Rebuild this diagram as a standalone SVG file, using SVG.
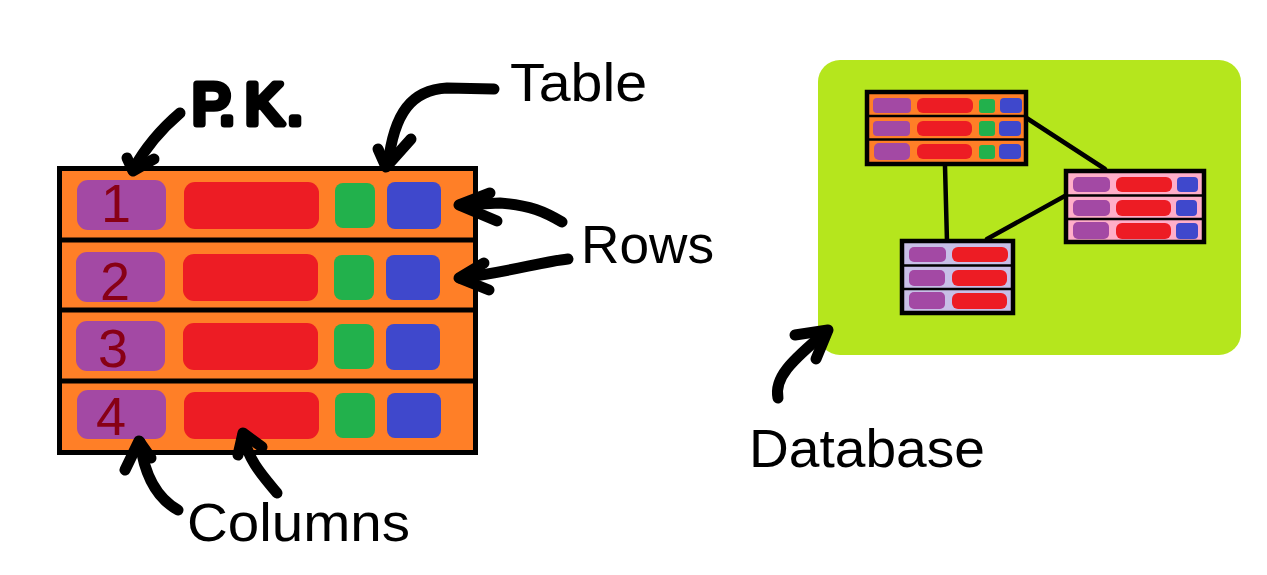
<svg xmlns="http://www.w3.org/2000/svg" width="1267" height="575" viewBox="0 0 1267 575">
<style>
.lbl{font-family:"Liberation Sans",Arial,sans-serif;font-size:54px;fill:#000}
.num{font-family:"Liberation Sans",Arial,sans-serif;font-size:54px;fill:#880015;text-anchor:middle}
.pk{font-family:"Liberation Sans",Arial,sans-serif;font-size:58px;fill:#000;stroke:#000;stroke-width:7;stroke-linejoin:round;stroke-linecap:round}
.frame{fill:none;stroke:#000;stroke-width:5}
.sfr{fill:none;stroke:#000;stroke-width:4.5}
.sep{stroke:#000;stroke-width:5}
.ssep{stroke:#000;stroke-width:2.5}
.pu{fill:#a349a4}.re{fill:#ed1c24}.gr{fill:#22b14c}.bl{fill:#3f48cc}
.arr{fill:none;stroke:#000;stroke-width:11;stroke-linecap:round;stroke-linejoin:round}
.link{fill:none;stroke:#000;stroke-width:4.5;stroke-linecap:round}
</style>
<rect width="1267" height="575" fill="#fff"/>

<g id="main-table">
  <rect x="59.5" y="168.5" width="416" height="284" fill="#ff7f27"/>
  <g id="row1">
    <rect class="pu" x="77" y="180" width="89" height="50" rx="11"/>
    <rect class="re" x="184" y="182" width="135" height="47" rx="11"/>
    <rect class="gr" x="335" y="183" width="40" height="45" rx="8"/>
    <rect class="bl" x="387" y="182" width="54" height="47" rx="8"/>
    <text class="num" x="116" y="222">1</text>
  </g>
  <g id="row2">
    <rect class="pu" x="76" y="252" width="89" height="50" rx="11"/>
    <rect class="re" x="183" y="254" width="135" height="47" rx="11"/>
    <rect class="gr" x="334" y="255" width="40" height="45" rx="8"/>
    <rect class="bl" x="386" y="255" width="54" height="45" rx="8"/>
    <text class="num" x="115" y="300">2</text>
  </g>
  <g id="row3">
    <rect class="pu" x="76" y="321" width="89" height="50" rx="11"/>
    <rect class="re" x="183" y="323" width="135" height="47" rx="11"/>
    <rect class="gr" x="334" y="324" width="40" height="45" rx="8"/>
    <rect class="bl" x="386" y="324" width="54" height="46" rx="8"/>
    <text class="num" x="113" y="367">3</text>
  </g>
  <g id="row4">
    <rect class="pu" x="77" y="390" width="89" height="49" rx="11"/>
    <rect class="re" x="184" y="392" width="135" height="47" rx="11"/>
    <rect class="gr" x="335" y="393" width="40" height="45" rx="8"/>
    <rect class="bl" x="387" y="393" width="54" height="45" rx="8"/>
    <text class="num" x="111" y="435">4</text>
  </g>
  <line class="sep" x1="59" y1="240" x2="476" y2="240"/>
  <line class="sep" x1="59" y1="310" x2="476" y2="310"/>
  <line class="sep" x1="59" y1="381" x2="476" y2="381"/>
  <rect class="frame" x="59.5" y="168.5" width="416" height="284"/>
</g>

<g id="database">
  <rect x="818" y="60" width="423" height="295" rx="22" fill="#b5e61d"/>
</g>

<g id="connectors">
  <line class="link" x1="945" y1="166" x2="947" y2="242"/>
  <line class="link" x1="1025" y1="117" x2="1105" y2="169"/>
  <line class="link" x1="987" y1="239" x2="1072" y2="192"/>
  <g id="arrow-pk">
    <path class="arr" d="M180,113 C160,130 145,148 133,170"/>
    <path class="arr" d="M127,158 L133,171 L154,159"/>
  </g>
  <g id="arrow-table">
    <path class="arr" d="M494,89 L447,88 C412,90 394,112 388,165"/>
    <path class="arr" d="M378,149 L386,167 L411,139"/>
  </g>
  <g id="arrow-row1">
    <path class="arr" d="M562,222 C545,212 530,205 500,203 L460,205"/>
    <path class="arr" d="M490,193 L459,205 L497,221"/>
  </g>
  <g id="arrow-row2">
    <path class="arr" d="M568,259 C540,262 510,272 460,278"/>
    <path class="arr" d="M484,263 L459,278 L489,290"/>
  </g>
  <g id="arrow-col1">
    <path class="arr" d="M178,510 C160,500 145,480 140,442"/>
    <path class="arr" d="M125,470 L139,441 L151,458"/>
  </g>
  <g id="arrow-col2">
    <path class="arr" d="M277,493 C262,475 248,460 243,435"/>
    <path class="arr" d="M238,455 L243,433 L262,447"/>
  </g>
  <g id="arrow-db">
    <path class="arr" d="M778,398 C774,378 790,362 827,331"/>
    <path class="arr" d="M795,335 L828,330 L816,359"/>
  </g>
</g>

<g id="table-orange">
  <rect x="867" y="92" width="159" height="72" fill="#ff7f27"/>
  <rect class="pu" x="873" y="98" width="38" height="15" rx="4"/>
  <rect class="re" x="917" y="98" width="56" height="15" rx="6"/>
  <rect class="gr" x="979" y="99" width="16" height="14" rx="3"/>
  <rect class="bl" x="1000" y="98" width="22" height="15" rx="4"/>
  <rect class="pu" x="873" y="121" width="37" height="15" rx="4"/>
  <rect class="re" x="917" y="121" width="55" height="15" rx="6"/>
  <rect class="gr" x="979" y="121" width="16" height="15" rx="3"/>
  <rect class="bl" x="999" y="121" width="22" height="15" rx="4"/>
  <rect class="pu" x="874" y="143" width="36" height="17" rx="5"/>
  <rect class="re" x="917" y="144" width="55" height="15" rx="6"/>
  <rect class="gr" x="979" y="145" width="16" height="14" rx="3"/>
  <rect class="bl" x="999" y="144" width="22" height="15" rx="4"/>
  <line class="ssep" x1="866" y1="116" x2="1027" y2="116"/>
  <line class="ssep" x1="866" y1="139.5" x2="1027" y2="139.5"/>
  <rect class="sfr" x="867" y="92" width="159" height="72"/>
</g>

<g id="table-pink">
  <rect x="1066" y="171" width="138" height="71" fill="#ffaec9"/>
  <rect class="pu" x="1073" y="177" width="37" height="15" rx="5"/>
  <rect class="re" x="1116" y="177" width="56" height="15" rx="6"/>
  <rect class="bl" x="1177" y="177" width="21" height="15" rx="4"/>
  <rect class="pu" x="1073" y="200" width="37" height="16" rx="5"/>
  <rect class="re" x="1116" y="200" width="55" height="16" rx="6"/>
  <rect class="bl" x="1176" y="200" width="21" height="16" rx="4"/>
  <rect class="pu" x="1073" y="222" width="36" height="17" rx="5"/>
  <rect class="re" x="1116" y="223" width="55" height="16" rx="6"/>
  <rect class="bl" x="1176" y="223" width="22" height="16" rx="4"/>
  <line class="ssep" x1="1065" y1="195.5" x2="1205" y2="195.5"/>
  <line class="ssep" x1="1065" y1="219" x2="1205" y2="219"/>
  <rect class="sfr" x="1066" y="171" width="138" height="71"/>
</g>

<g id="table-lavender">
  <rect x="902" y="241" width="111" height="72" fill="#c8bfe7"/>
  <rect class="pu" x="909" y="247" width="37" height="15" rx="5"/>
  <rect class="re" x="952" y="247" width="56" height="15" rx="6"/>
  <rect class="pu" x="909" y="270" width="36" height="16" rx="5"/>
  <rect class="re" x="952" y="270" width="55" height="16" rx="6"/>
  <rect class="pu" x="909" y="292" width="36" height="17" rx="5"/>
  <rect class="re" x="952" y="293" width="55" height="16" rx="6"/>
  <line class="ssep" x1="901" y1="265.5" x2="1014" y2="265.5"/>
  <line class="ssep" x1="901" y1="289" x2="1014" y2="289"/>
  <rect class="sfr" x="902" y="241" width="111" height="72"/>
</g>

<g id="labels">
  <text class="pk" x="192 219 245 287" y="124">P.K.</text>
  <text class="lbl" x="510" y="101" textLength="137" lengthAdjust="spacingAndGlyphs">Table</text>
  <text class="lbl" x="581" y="263" textLength="133" lengthAdjust="spacingAndGlyphs">Rows</text>
  <text class="lbl" x="187" y="541" textLength="223" lengthAdjust="spacingAndGlyphs">Columns</text>
  <text class="lbl" x="749" y="467" textLength="236" lengthAdjust="spacingAndGlyphs">Database</text>
</g>
</svg>
